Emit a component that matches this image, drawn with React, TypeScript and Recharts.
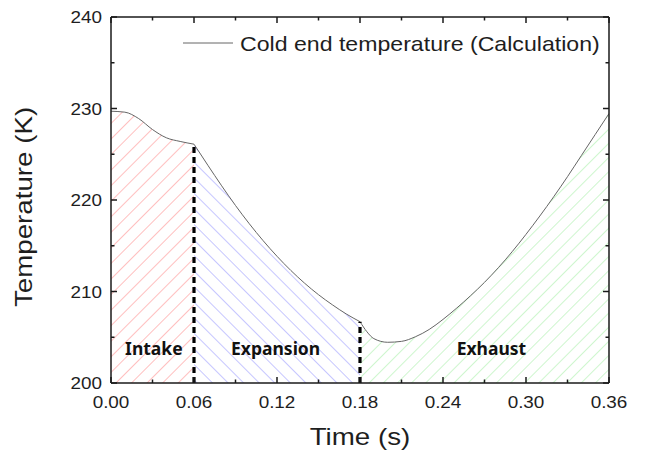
import React from "react";
import { ComposedChart, Area, XAxis, YAxis, ReferenceLine, ReferenceDot, Legend } from "recharts";

// Cold end temperature (s, K)
const TIME = [
  0, 0.01, 0.02, 0.03, 0.04, 0.05, 0.06, 0.07, 0.08, 0.09, 0.1, 0.11, 0.12, 0.13, 0.14, 0.15, 0.16, 0.17, 0.18,
  0.185, 0.19, 0.2, 0.21, 0.22, 0.23, 0.24, 0.25, 0.26, 0.27, 0.28, 0.29, 0.3, 0.31, 0.32, 0.33, 0.34, 0.35, 0.36,
];
const TEMP = [
  229.7, 229.6, 228.9, 227.7, 226.8, 226.4, 226.1, 223.8, 221.55, 219.4, 217.4, 215.55, 213.85, 212.3, 210.9, 209.65,
  208.55, 207.55, 206.7, 205.6, 204.85, 204.45, 204.55, 205.05, 205.85, 206.95, 208.2, 209.55, 211.0, 212.6, 214.35,
  216.25, 218.25, 220.35, 222.55, 224.85, 227.15, 229.45,
];

// phase boundaries and labels
const PHASE_ENDS = [0.06, 0.18];
const PHASES = ["Intake", "Expansion", "Exhaust"];
const PHASE_LABEL_TIME = [0.031, 0.119, 0.275];
const LABEL_TEMP = 203.7;

const X_TICKS = [0, 0.03, 0.06, 0.09, 0.12, 0.15, 0.18, 0.21, 0.24, 0.27, 0.3, 0.33, 0.36];
const Y_TICKS = [200, 205, 210, 215, 220, 225, 230, 235, 240];

const SERIES_NAME = "Cold end temperature (Calculation)";

const data = TIME.map((t, i) => ({
  t,
  intake: t <= PHASE_ENDS[0] + 1e-9 ? TEMP[i] : null,
  expansion: t >= PHASE_ENDS[0] - 1e-9 && t <= PHASE_ENDS[1] + 1e-9 ? TEMP[i] : null,
  exhaust: t >= PHASE_ENDS[1] - 1e-9 ? TEMP[i] : null,
}));

const tempAt = (t: number) => TEMP[TIME.indexOf(t)];

const FONT = "'Liberation Sans', Arial, sans-serif";
const SX = 1.18; // the original text is a bit stretched sideways
const INK = "#1e1e1e";
const FRAME = "#1a1a1a";
const CURVE = "#666";

const isMajorX = (v: number) => Math.round(v * 100) % 6 === 0;
const isMajorY = (v: number) => Math.round(v) % 10 === 0;

const BottomTick = ({ x, y, payload }: any) => {
  const major = isMajorX(payload.value);
  return (
    <g>
      <line x1={x} x2={x} y1={y} y2={y - (major ? 6 : 3.5)} stroke={FRAME} strokeWidth={1.5} />
      {major && (
        <text transform={`translate(${x},${y + 25}) scale(${SX},1)`} textAnchor="middle" fontSize={16} fontFamily={FONT} fill={INK}>
          {payload.value.toFixed(2)}
        </text>
      )}
    </g>
  );
};

const TopTick = ({ x, y, payload }: any) => {
  const major = isMajorX(payload.value);
  return <line x1={x} x2={x} y1={y} y2={y + (major ? 6 : 3.5)} stroke={FRAME} strokeWidth={1.5} />;
};

const LeftTick = ({ x, y, payload }: any) => {
  const major = isMajorY(payload.value);
  return (
    <g>
      <line x1={x} x2={x + (major ? 6 : 3.5)} y1={y} y2={y} stroke={FRAME} strokeWidth={1.5} />
      {major && (
        <text transform={`translate(${x - 9},${y + 6}) scale(${SX},1)`} textAnchor="end" fontSize={16} fontFamily={FONT} fill={INK}>
          {payload.value}
        </text>
      )}
    </g>
  );
};

const RightTick = ({ x, y, payload }: any) => {
  const major = isMajorY(payload.value);
  return <line x1={x} x2={x - (major ? 6 : 3.5)} y1={y} y2={y} stroke={FRAME} strokeWidth={1.5} />;
};

const XTitle = ({ viewBox }: any) => (
  <text
    transform={`translate(${viewBox.x + viewBox.width / 2},${viewBox.y + 62}) scale(${SX},1)`}
    textAnchor="middle"
    fontSize={23.5}
    fontFamily={FONT}
    fill={INK}
  >
    Time (s)
  </text>
);

const YTitle = ({ viewBox }: any) => (
  <text
    transform={`translate(24,${viewBox.y + viewBox.height / 2 + 7}) rotate(-90) scale(${SX},1)`}
    textAnchor="middle"
    fontSize={23.5}
    fontFamily={FONT}
    fill={INK}
  >
    Temperature (K)
  </text>
);

const LegendBox = () => (
  <svg width={440} height={36}>
    <line x1={5} x2={55} y1={15} y2={15} stroke={CURVE} strokeWidth={1} />
    <text transform={`translate(62,23) scale(${SX},1)`} fontSize={19.6} fontFamily={FONT} fill={INK}>
      {SERIES_NAME}
    </text>
  </svg>
);

const phaseLabel = (text: string) => (p: any) => (
  <text x={p.cx} y={p.cy + 6} textAnchor="middle" fontSize={17.5} fontWeight="bold" fontFamily="'Noto Sans', sans-serif" fill="#111">
    {text}
  </text>
);

export default function App() {
  return (
    <ComposedChart width={629} height={444} data={data} margin={{ top: 8, right: 27, left: 0, bottom: 0 }}>
      <defs>
        <pattern id="hatchRed" width="11" height="11" patternUnits="userSpaceOnUse" patternTransform="rotate(45)">
          <line x1="0" y1="0" x2="0" y2="11" stroke="#ff9494" strokeWidth="1.2" />
        </pattern>
        <pattern id="hatchBlue" width="11" height="11" patternUnits="userSpaceOnUse" patternTransform="rotate(-45)">
          <line x1="0" y1="0" x2="0" y2="11" stroke="#a0a0ff" strokeWidth="1.2" />
        </pattern>
        <pattern id="hatchGreen" width="10" height="10" patternUnits="userSpaceOnUse" patternTransform="rotate(45)">
          <line x1="0" y1="0" x2="0" y2="10" stroke="#adf0ad" strokeWidth="1.2" />
        </pattern>
      </defs>

      <XAxis
        dataKey="t"
        type="number"
        domain={[0, 0.36]}
        ticks={X_TICKS}
        interval={0}
        allowDataOverflow
        height={69}
        tickSize={0}
        tickMargin={0}
        tickLine={false}
        tick={BottomTick}
        axisLine={{ stroke: FRAME, strokeWidth: 1.5 }}
        label={<XTitle />}
      />
      <XAxis
        xAxisId="top"
        dataKey="t"
        orientation="top"
        type="number"
        domain={[0, 0.36]}
        ticks={X_TICKS}
        interval={0}
        allowDataOverflow
        height={1}
        tickSize={0}
        tickMargin={0}
        tickLine={false}
        tick={TopTick}
        axisLine={{ stroke: FRAME, strokeWidth: 1.5 }}
      />
      <YAxis
        type="number"
        domain={[200, 240]}
        ticks={Y_TICKS}
        interval={0}
        allowDataOverflow
        width={103}
        tickSize={0}
        tickMargin={0}
        tickLine={false}
        tick={LeftTick}
        axisLine={{ stroke: FRAME, strokeWidth: 1.5 }}
        label={<YTitle />}
      />
      <YAxis
        yAxisId="right"
        orientation="right"
        type="number"
        domain={[200, 240]}
        ticks={Y_TICKS}
        interval={0}
        allowDataOverflow
        width={1}
        tickSize={0}
        tickMargin={0}
        tickLine={false}
        tick={RightTick}
        axisLine={{ stroke: FRAME, strokeWidth: 1.5 }}
      />

      <Legend verticalAlign="middle" align="center" content={<LegendBox />} wrapperStyle={{ top: 20, left: 170, width: 440 }} />

      <Area dataKey="intake" type="monotone" stroke={CURVE} strokeWidth={1} fill="url(#hatchRed)" fillOpacity={1} dot={false} activeDot={false} isAnimationActive={false} />
      <Area dataKey="expansion" type="monotone" stroke={CURVE} strokeWidth={1} fill="url(#hatchBlue)" fillOpacity={1} dot={false} activeDot={false} isAnimationActive={false} />
      {/* bound to the top/right axes so those axes get a scale and draw their ticks */}
      <Area
        xAxisId="top"
        yAxisId="right"
        dataKey="exhaust"
        type="monotone"
        stroke={CURVE}
        strokeWidth={1}
        fill="url(#hatchGreen)"
        fillOpacity={1}
        dot={false}
        activeDot={false}
        isAnimationActive={false}
      />

      {PHASE_ENDS.map((t) => (
        <ReferenceLine
          key={t}
          segment={[
            { x: t, y: Y_TICKS[0] },
            { x: t, y: tempAt(t) },
          ]}
          stroke="#000"
          strokeWidth={3.2}
          strokeDasharray="6 4"
        />
      ))}

      {PHASES.map((name, i) => (
        <ReferenceDot key={name} x={PHASE_LABEL_TIME[i]} y={LABEL_TEMP} r={0} shape={phaseLabel(name)} />
      ))}
    </ComposedChart>
  );
}
